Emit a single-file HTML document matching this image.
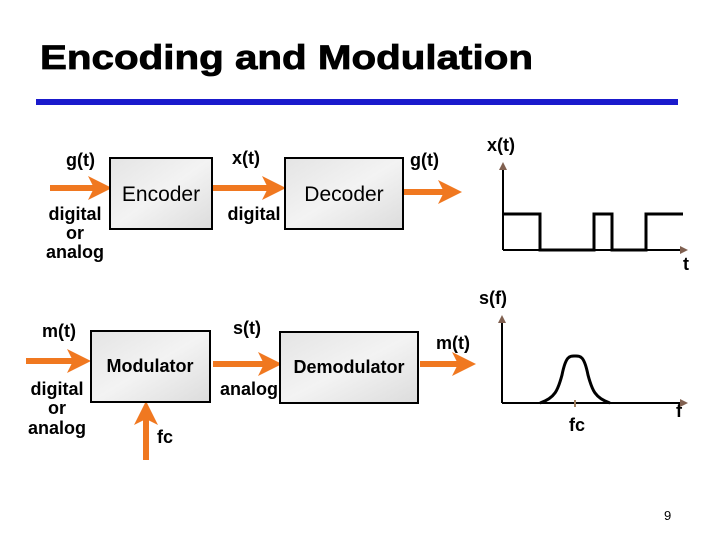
<!DOCTYPE html>
<html><head><meta charset="utf-8"><style>
body{margin:0;background:#fff;}
svg{display:block;font-family:"Liberation Sans",Arial,sans-serif;}
</style></head><body>
<svg width="720" height="540" viewBox="0 0 720 540" xmlns="http://www.w3.org/2000/svg">
<defs>
<linearGradient id="mb" x1="0" y1="0" x2="1" y2="1">
<stop offset="0" stop-color="#e4e4e4"/><stop offset="0.5" stop-color="#f3f3f3"/><stop offset="1" stop-color="#dcdcdc"/>
</linearGradient>
<marker id="oa" markerWidth="4" markerHeight="4" refX="3" refY="2" orient="auto" markerUnits="strokeWidth"><path d="M0,0 L4,2 L0,4 L1,2 z" fill="#f07820"/></marker>
<marker id="ga" markerWidth="8" markerHeight="8" refX="6" refY="4" orient="auto" markerUnits="userSpaceOnUse"><path d="M0,0 L8,4 L0,8 z" fill="#806050"/></marker>
</defs>
<text x="40" y="69" font-size="34" font-weight="bold" fill="#000" textLength="493" lengthAdjust="spacingAndGlyphs" stroke="#000" stroke-width="0.8">Encoding and Modulation</text>
<rect x="36" y="99" width="642" height="6" fill="#1a1acc"/>
<g stroke="#f07820" stroke-width="6" fill="none">
<line x1="50" y1="188" x2="106" y2="188" marker-end="url(#oa)"/>
<line x1="212" y1="188" x2="280" y2="188" marker-end="url(#oa)"/>
<line x1="403" y1="192" x2="456" y2="192" marker-end="url(#oa)"/>
<line x1="26" y1="361" x2="85" y2="361" marker-end="url(#oa)"/>
<line x1="213" y1="364" x2="276" y2="364" marker-end="url(#oa)"/>
<line x1="420" y1="364" x2="470" y2="364" marker-end="url(#oa)"/>
<line x1="146" y1="460" x2="146" y2="407" marker-end="url(#oa)"/>
</g>
<g stroke="#000" stroke-width="2" fill="url(#mb)">
<rect x="110" y="158" width="102" height="71"/>
<rect x="285" y="158" width="118" height="71"/>
<rect x="91" y="331" width="119" height="71"/>
<rect x="280" y="332" width="138" height="71"/>
</g>
<g font-size="18" font-weight="bold" fill="#000">
<text x="66" y="166">g(t)</text>
<text x="232" y="164">x(t)</text>
<text x="410" y="166">g(t)</text>
<text x="75" y="220" text-anchor="middle">digital</text>
<text x="75" y="239" text-anchor="middle">or</text>
<text x="75" y="258" text-anchor="middle">analog</text>
<text x="254" y="220" text-anchor="middle">digital</text>
<text x="42" y="337">m(t)</text>
<text x="233" y="334">s(t)</text>
<text x="436" y="349">m(t)</text>
<text x="57" y="395" text-anchor="middle">digital</text>
<text x="57" y="414" text-anchor="middle">or</text>
<text x="57" y="434" text-anchor="middle">analog</text>
<text x="249" y="395" text-anchor="middle">analog</text>
<text x="157" y="443">fc</text>
<text x="487" y="151">x(t)</text>
<text x="683" y="270">t</text>
<text x="479" y="304">s(f)</text>
<text x="569" y="431">fc</text>
<text x="676" y="417">f</text>
</g>
<g font-size="21" fill="#000">
<text x="161" y="201" text-anchor="middle">Encoder</text>
<text x="344" y="201" text-anchor="middle">Decoder</text>
</g>
<g font-size="18" fill="#000" font-weight="bold">
<text x="150" y="372" text-anchor="middle">Modulator</text>
<text x="349" y="373" text-anchor="middle">Demodulator</text>
</g>
<g stroke="#000" stroke-width="2" fill="none">
<line x1="503" y1="250" x2="503" y2="164" marker-end="url(#ga)"/>
<line x1="503" y1="250" x2="686" y2="250" marker-end="url(#ga)"/>
<path d="M503,214 H540 V250 H594 V214 H612 V250 H646 V214 H683" stroke-width="3"/>
<line x1="502" y1="403" x2="502" y2="317" marker-end="url(#ga)"/>
<line x1="502" y1="403" x2="686" y2="403" marker-end="url(#ga)"/>
<path d="M540,403 C555,398 558,390 562,375 C566,355 570,356 575,356 C580,356 584,355 588,375 C592,390 595,398 610,403" stroke-width="3"/>
</g>
<line x1="575" y1="400" x2="575" y2="407" stroke="#a08060" stroke-width="2"/>
<text x="664" y="520" font-size="13" fill="#000">9</text>
</svg>
</body></html>
